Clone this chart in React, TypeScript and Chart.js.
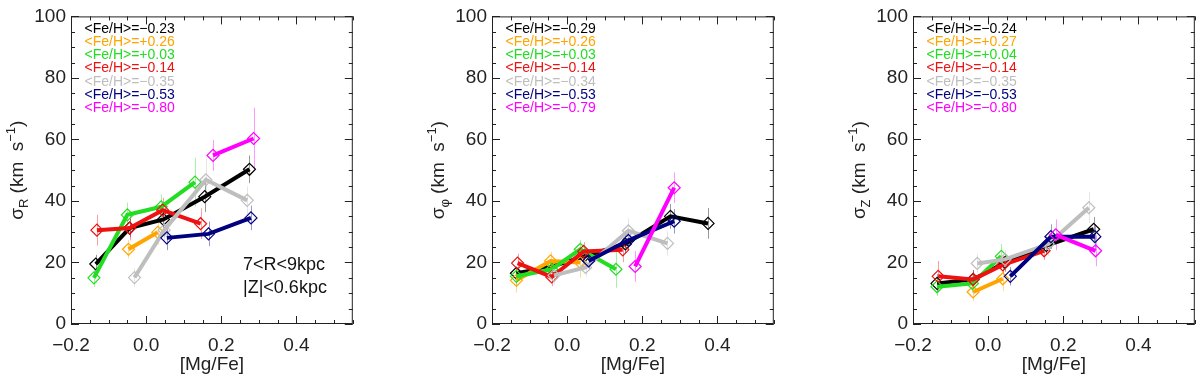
import React, { useEffect, useRef } from 'react';
import { Chart, registerables } from 'chart.js';
Chart.register(...registerables);

// ---------- axis setup ----------
const X_MIN = -0.2;
const X_MAX = 0.55;
const Y_MIN = 0;
const Y_MAX = 100;
const xTickValues = [-0.2, 0, 0.2, 0.4];
const yTickValues = [0, 20, 40, 60, 80, 100];
const xMinorStep = 0.05;
const yMinorStep = 5;
const xTitle = '[Mg/Fe]';

// series order: black, orange, green, red, gray, navy, magenta
const seriesColors = ['#000000', '#FFA500', '#22DD22', '#EE1111', '#BEBEBE', '#000080', '#FF00FF'];

// ---------- panel 1: sigma_R ----------
const rLegend = ['<Fe/H>=−0.23', '<Fe/H>=+0.26', '<Fe/H>=+0.03', '<Fe/H>=−0.14', '<Fe/H>=−0.35', '<Fe/H>=−0.53', '<Fe/H>=−0.80'];
const rBlackX = [-0.134, -0.044, 0.046, 0.156, 0.275];
const rBlackY = [19.5, 31.2, 34.0, 41.4, 50.3];
const rBlackE = [3, 3, 3, 5, 4.5];
const rOrangeX = [-0.047, 0.031];
const rOrangeY = [24.3, 29.8];
const rOrangeE = [3, 4];
const rGreenX = [-0.139, -0.05, 0.04, 0.13];
const rGreenY = [15.0, 35.5, 38.1, 46.1];
const rGreenE = [3, 4, 4, 8];
const rRedX = [-0.131, -0.044, 0.044, 0.145];
const rRedY = [30.5, 31.2, 37.0, 32.6];
const rRedE = [5, 4, 4, 5];
const rGrayX = [-0.031, 0.048, 0.159, 0.269];
const rGrayY = [15.1, 30.5, 46.9, 40.2];
const rGrayE = [3, 4, 7, 4.5];
const rNavyX = [0.055, 0.166, 0.279];
const rNavyY = [28.0, 29.3, 34.5];
const rNavyE = [4, 4, 4];
const rMagX = [0.178, 0.286];
const rMagY = [54.8, 60.3];
const rMagE = [5, 10];

// ---------- panel 2: sigma_phi ----------
const pLegend = ['<Fe/H>=−0.29', '<Fe/H>=+0.26', '<Fe/H>=+0.03', '<Fe/H>=−0.14', '<Fe/H>=−0.34', '<Fe/H>=−0.53', '<Fe/H>=−0.79'];
const pBlackX = [-0.135, -0.045, 0.045, 0.155, 0.275, 0.375];
const pBlackY = [16.5, 18.5, 22.0, 26.0, 35.0, 32.7];
const pBlackE = [2, 2, 2, 3, 4, 5];
const pOrangeX = [-0.135, -0.044, 0.035];
const pOrangeY = [14.2, 20.5, 20.0];
const pOrangeE = [4, 3, 5];
const pGreenX = [-0.135, -0.041, 0.035, 0.13];
const pGreenY = [15.5, 17.8, 24.3, 17.8];
const pGreenE = [3, 3, 3, 6];
const pRedX = [-0.132, -0.041, 0.044, 0.148];
const pRedY = [19.8, 15.3, 23.6, 24.1];
const pRedE = [3, 3, 3, 4];
const pGrayX = [-0.035, 0.049, 0.163, 0.267];
const pGrayY = [15.8, 18.4, 30.3, 26.2];
const pGrayE = [3, 3, 4, 4];
const pNavyX = [0.057, 0.163, 0.285];
const pNavyY = [20.5, 27.2, 33.4];
const pNavyE = [3, 3, 4];
const pMagX = [0.181, 0.285];
const pMagY = [18.7, 44.3];
const pMagE = [5, 5];

// ---------- panel 3: sigma_Z ----------
const zLegend = ['<Fe/H>=−0.24', '<Fe/H>=+0.27', '<Fe/H>=+0.04', '<Fe/H>=−0.14', '<Fe/H>=−0.35', '<Fe/H>=−0.53', '<Fe/H>=−0.80'];
const zBlackX = [-0.136, -0.04, 0.045, 0.155, 0.281];
const zBlackY = [13.2, 14.5, 20.0, 25.5, 30.8];
const zBlackE = [3, 3, 3, 3, 4];
const zOrangeX = [-0.04, 0.039];
const zOrangeY = [10.4, 14.7];
const zOrangeE = [3, 4];
const zGreenX = [-0.136, -0.042, 0.035];
const zGreenY = [12.1, 13.2, 22.0];
const zGreenE = [3, 3, 4];
const zRedX = [-0.133, -0.04, 0.039, 0.149];
const zRedY = [15.5, 14.5, 19.2, 23.8];
const zRedE = [5, 3, 3, 3];
const zGrayX = [-0.029, 0.045, 0.16, 0.268];
const zGrayY = [19.7, 21.0, 26.0, 37.8];
const zGrayE = [3, 3, 4, 5];
const zNavyX = [0.059, 0.167, 0.284];
const zNavyY = [15.5, 28.4, 28.4];
const zNavyE = [3, 4, 4];
const zMagX = [0.18, 0.286];
const zMagY = [29.0, 23.8];
const zMagE = [5, 5];

const panel1Notes = ['7<R<9kpc', '|Z|<0.6kpc'];

type Series = { x: number[]; y: number[]; e: number[] };
type Panel = { sub: string; legend: string[]; series: Series[]; notes: string[] };

const panels: Panel[] = [
  {
    sub: 'R', legend: rLegend, notes: panel1Notes,
    series: [
      { x: rBlackX, y: rBlackY, e: rBlackE }, { x: rOrangeX, y: rOrangeY, e: rOrangeE },
      { x: rGreenX, y: rGreenY, e: rGreenE }, { x: rRedX, y: rRedY, e: rRedE },
      { x: rGrayX, y: rGrayY, e: rGrayE }, { x: rNavyX, y: rNavyY, e: rNavyE },
      { x: rMagX, y: rMagY, e: rMagE },
    ],
  },
  {
    sub: 'φ', legend: pLegend, notes: [],
    series: [
      { x: pBlackX, y: pBlackY, e: pBlackE }, { x: pOrangeX, y: pOrangeY, e: pOrangeE },
      { x: pGreenX, y: pGreenY, e: pGreenE }, { x: pRedX, y: pRedY, e: pRedE },
      { x: pGrayX, y: pGrayY, e: pGrayE }, { x: pNavyX, y: pNavyY, e: pNavyE },
      { x: pMagX, y: pMagY, e: pMagE },
    ],
  },
  {
    sub: 'Z', legend: zLegend, notes: [],
    series: [
      { x: zBlackX, y: zBlackY, e: zBlackE }, { x: zOrangeX, y: zOrangeY, e: zOrangeE },
      { x: zGreenX, y: zGreenY, e: zGreenE }, { x: zRedX, y: zRedY, e: zRedE },
      { x: zGrayX, y: zGrayY, e: zGrayE }, { x: zNavyX, y: zNavyY, e: zNavyE },
      { x: zMagX, y: zMagY, e: zMagE },
    ],
  },
];

const FONT = '"Liberation Sans", Arial, Helvetica, sans-serif';
const AXIS_COLOR = '#222222';
const PANEL_W = 360;
const PANEL_H = 378;
const PANEL_STEP = 421;

function rgba(hex: string, a: number) {
  const n = parseInt(hex.slice(1), 16);
  return `rgba(${(n >> 16) & 255},${(n >> 8) & 255},${n & 255},${a})`;
}

function fmtX(v: number) {
  const s = Math.abs(v) < 1e-9 ? '0.0' : v.toFixed(1);
  return s.replace('-', '−');
}

function makePlugin(panel: Panel) {
  return {
    id: 'panelDecor',
    beforeDatasetsDraw(chart: any) {
      const { ctx, scales } = chart;
      const xs = scales.x, ys = scales.y;
      ctx.save();
      panel.series.forEach((s, i) => {
        ctx.strokeStyle = rgba(seriesColors[i], 0.4);
        ctx.lineWidth = 1;
        s.x.forEach((xv, j) => {
          const px = Math.round(xs.getPixelForValue(xv)) + 0.5;
          ctx.beginPath();
          ctx.moveTo(px, ys.getPixelForValue(s.y[j] - s.e[j]));
          ctx.lineTo(px, ys.getPixelForValue(s.y[j] + s.e[j]));
          ctx.stroke();
        });
      });
      ctx.restore();
    },
    afterDraw(chart: any) {
      const { ctx, chartArea, scales } = chart;
      const xs = scales.x, ys = scales.y;
      const { left, right, top, bottom } = chartArea;
      ctx.save();
      ctx.strokeStyle = AXIS_COLOR;
      ctx.lineWidth = 1;
      ctx.strokeRect(left + 0.5, top + 0.5, right - left - 1, bottom - top - 1);
      const MAJ = 8, MIN = 4;
      const nx = Math.round((X_MAX - X_MIN) / xMinorStep);
      for (let k = 0; k <= nx; k++) {
        const v = X_MIN + k * xMinorStep;
        const isMaj = xTickValues.some((t) => Math.abs(t - v) < 1e-6);
        const len = isMaj ? MAJ : MIN;
        const px = Math.round(xs.getPixelForValue(v)) + 0.5;
        ctx.beginPath();
        ctx.moveTo(px, bottom);
        ctx.lineTo(px, bottom - len);
        ctx.moveTo(px, top);
        ctx.lineTo(px, top + len);
        ctx.stroke();
      }
      const ny = Math.round((Y_MAX - Y_MIN) / yMinorStep);
      for (let k = 0; k <= ny; k++) {
        const v = Y_MIN + k * yMinorStep;
        const isMaj = yTickValues.some((t) => Math.abs(t - v) < 1e-6);
        const len = isMaj ? MAJ : MIN;
        const py = Math.round(ys.getPixelForValue(v)) + 0.5;
        ctx.beginPath();
        ctx.moveTo(left, py);
        ctx.lineTo(left + len, py);
        ctx.moveTo(right, py);
        ctx.lineTo(right - len, py);
        ctx.stroke();
      }
      // legend text
      ctx.font = `14px ${FONT}`;
      ctx.textAlign = 'left';
      ctx.textBaseline = 'middle';
      panel.legend.forEach((t, i) => {
        ctx.fillStyle = seriesColors[i];
        ctx.fillText(t, left + 13.5, 29 + i * 13.2);
      });
      // notes
      ctx.fillStyle = '#111111';
      ctx.font = `18px ${FONT}`;
      panel.notes.forEach((t, i) => {
        ctx.fillText(t, 243, 265 + i * 23);
      });
      // y title with sub/superscripts
      ctx.translate(16, (top + bottom) / 2);
      ctx.rotate(-Math.PI / 2);
      const big = `19px ${FONT}`;
      const small = `13px ${FONT}`;
      const parts = [
        { t: 'σ', f: big, dy: 0 },
        { t: panel.sub, f: small, dy: 5 },
        { t: ' (km  s', f: big, dy: 0 },
        { t: '−1', f: small, dy: -8 },
        { t: ')', f: big, dy: 0 },
      ];
      let total = 0;
      parts.forEach((p) => { ctx.font = p.f; total += ctx.measureText(p.t).width; });
      let cx = -total / 2;
      ctx.fillStyle = AXIS_COLOR;
      ctx.textBaseline = 'alphabetic';
      parts.forEach((p) => {
        ctx.font = p.f;
        ctx.fillText(p.t, cx, 7 + p.dy);
        cx += ctx.measureText(p.t).width;
      });
      ctx.restore();
    },
  };
}

function PanelChart({ panel, index }: { panel: Panel; index: number }) {
  const ref = useRef<HTMLCanvasElement | null>(null);
  useEffect(() => {
    if (!ref.current) return;
    const datasets = panel.series.map((s, i) => ({
      data: s.x.map((xv, j) => ({ x: xv, y: s.y[j] })),
      borderColor: seriesColors[i],
      backgroundColor: 'rgba(0,0,0,0)',
      borderWidth: 4,
      pointStyle: 'rectRot',
      pointRadius: 6,
      pointBorderWidth: 1.2,
      pointBorderColor: seriesColors[i],
      pointBackgroundColor: 'rgba(0,0,0,0)',
      tension: 0,
      order: 10 - i,
    }));
    const chart = new Chart(ref.current, {
      type: 'line',
      data: { datasets },
      options: {
        animation: false,
        responsive: false,
        devicePixelRatio: 1,
        layout: { padding: { top: 3, right: 4, left: 0, bottom: 0 } },
        plugins: { legend: { display: false }, tooltip: { enabled: false } },
        scales: {
          x: {
            type: 'linear',
            min: X_MIN,
            max: X_MAX,
            grid: { display: false, drawTicks: false },
            border: { display: false },
            afterBuildTicks: (sc: any) => { sc.ticks = xTickValues.map((v) => ({ value: v })); },
            afterFit: (sc: any) => { sc.height = 54; },
            ticks: {
              font: { family: FONT, size: 19 },
              color: AXIS_COLOR,
              padding: 10,
              maxRotation: 0,
              autoSkip: false,
              callback: (v: any) => fmtX(Number(v)),
            },
            title: {
              display: true,
              text: xTitle,
              font: { family: FONT, size: 19 },
              color: AXIS_COLOR,
              padding: { top: 0, bottom: 2 },
            },
          },
          y: {
            type: 'linear',
            min: Y_MIN,
            max: Y_MAX,
            grid: { display: false, drawTicks: false },
            border: { display: false },
            afterBuildTicks: (sc: any) => { sc.ticks = yTickValues.map((v) => ({ value: v })); },
            afterFit: (sc: any) => { sc.width = 71; },
            ticks: {
              font: { family: FONT, size: 19 },
              color: AXIS_COLOR,
              padding: 5,
              autoSkip: false,
              callback: (v: any) => String(v),
            },
          },
        },
      },
      plugins: [makePlugin(panel)],
    } as any);
    return () => chart.destroy();
  }, [panel]);
  return (
    <canvas
      ref={ref}
      width={PANEL_W}
      height={PANEL_H}
      style={{ position: 'absolute', left: index * PANEL_STEP, top: 0, width: PANEL_W, height: PANEL_H }}
    />
  );
}

export default function App() {
  return (
    <div style={{ position: 'absolute', left: 0, top: 0, width: 1200, height: 378, background: '#ffffff', overflow: 'hidden' }}>
      {panels.map((p, i) => (
        <PanelChart key={i} panel={p} index={i} />
      ))}
    </div>
  );
}
